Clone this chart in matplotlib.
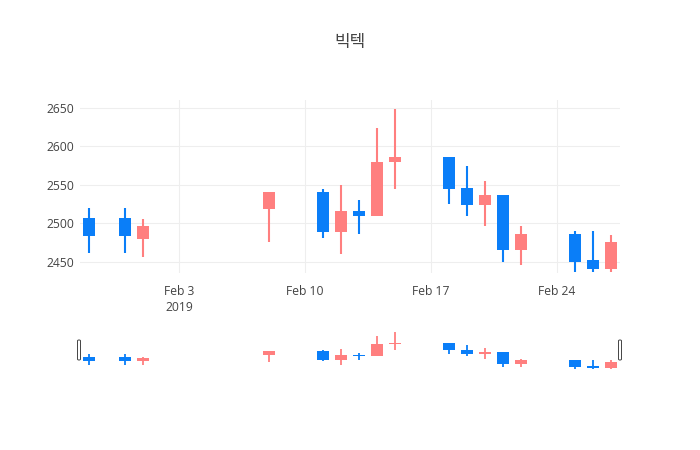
import numpy as np
import pandas as pd
import matplotlib
matplotlib.use("Agg")
import matplotlib.pyplot as plt
import matplotlib.dates as mdates
from matplotlib.patches import FancyBboxPatch

plt.rcParams['font.family'] = ['Open Sans', 'Noto Sans CJK KR', 'DejaVu Sans']

# daily prices
dates = ["2019-01-29", "2019-01-31", "2019-02-01", "2019-02-08", "2019-02-11",
         "2019-02-12", "2019-02-13", "2019-02-14", "2019-02-15", "2019-02-18",
         "2019-02-19", "2019-02-20", "2019-02-21", "2019-02-22", "2019-02-25",
         "2019-02-26", "2019-02-27"]
opens  = [2507, 2507, 2480, 2519, 2541, 2489, 2516, 2509, 2579, 2586, 2546, 2524, 2536, 2465, 2486, 2452, 2440]
highs  = [2520, 2520, 2505, 2541, 2545, 2550, 2530, 2624, 2648, 2586, 2574, 2555, 2536, 2496, 2490, 2490, 2485]
lows   = [2461, 2461, 2456, 2476, 2481, 2460, 2486, 2509, 2545, 2525, 2510, 2496, 2450, 2446, 2436, 2436, 2436]
closes = [2484, 2484, 2497, 2541, 2489, 2516, 2509, 2580, 2586, 2544, 2524, 2536, 2465, 2486, 2450, 2440, 2476]

up_color = '#ff7f7f'
down_color = '#0a7ef8'
txt = '#444444'

x = mdates.date2num(pd.to_datetime(dates))
o = np.array(opens); h = np.array(highs); l = np.array(lows); c = np.array(closes)
cols = [up_color if cc >= oo else down_color for oo, cc in zip(o, c)]
bottoms = np.minimum(o, c)
heights = np.maximum(np.abs(c - o), 0.8)

fig = plt.figure(figsize=(7, 4.5), dpi=100)
W, H = 700.0, 450.0

xlo = mdates.date2num(pd.Timestamp("2019-01-28 12:00"))
xhi = mdates.date2num(pd.Timestamp("2019-02-27 12:00"))


def candles(ax, wick_lw):
    ax.vlines(x, l, h, colors=cols, lw=wick_lw, zorder=2)
    ax.bar(x, heights, bottom=bottoms, width=0.62, color=cols, lw=0, zorder=3)


# main chart
ax = fig.add_axes([80 / W, 1 - 272.5 / H, 540 / W, 172.5 / H])
candles(ax, 1.5)
ax.set_xlim(xlo, xhi)
ax.set_ylim(2436, 2660)
ax.set_yticks([2450, 2500, 2550, 2600, 2650])
ticks = mdates.date2num(pd.to_datetime(["2019-02-03", "2019-02-10", "2019-02-17", "2019-02-24"]))
ax.set_xticks(ticks)
ax.set_xticklabels(["Feb 3\n2019", "Feb 10", "Feb 17", "Feb 24"], linespacing=1.3, va='top')
ax.grid(True, color='#eeeeee', lw=0.8, zorder=0)
ax.set_axisbelow(True)
for s in ax.spines.values():
    s.set_visible(False)
ax.tick_params(axis='both', length=0, labelsize=8.7, colors=txt)
ax.tick_params(axis='x', pad=9)
ax.tick_params(axis='y', pad=4)

# range slider
rs = fig.add_axes([80 / W, 1 - 370 / H, 540 / W, 40.5 / H])
candles(rs, 1.3)
rs.set_xlim(xlo, xhi)
rs.set_ylim(2430, 2664)
rs.axis('off')

for hx in (77.5, 618.5):
    fig.patches.append(FancyBboxPatch((hx / W, 1 - 360 / H), 3 / W, 20 / H,
                                      boxstyle="round,pad=0,rounding_size=0.002",
                                      transform=fig.transFigure, fc='white',
                                      ec=txt, lw=0.7))

fig.text(350 / W, 1 - 43 / H, "빅텍", ha='center', va='center', fontsize=12.2,
         color=txt, family=['Open Sans', 'Noto Sans CJK KR', 'DejaVu Sans'])

fig.savefig("out.png", dpi=100, facecolor='white')
